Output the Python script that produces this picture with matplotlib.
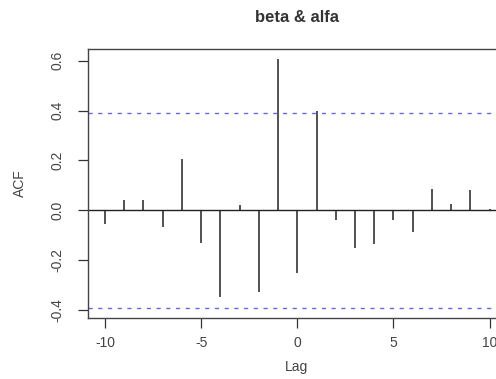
import matplotlib

matplotlib.use("Agg")

import matplotlib.pyplot as plt
import numpy as np

# cross-correlation values
lags = list(range(-10, 11))
acf = [-0.053, 0.043, 0.043, -0.067, 0.207, -0.131, -0.347, 0.02, -0.329, 0.605,
       -0.253, 0.397, -0.037, -0.153, -0.136, -0.037, -0.087, 0.087, 0.027, 0.08, 0.007]
conf = 0.39
x_ticks = [-10, -5, 0, 5, 10]
y_ticks = [-0.4, -0.2, 0.0, 0.2, 0.4, 0.6]

plt.rcParams["font.family"] = ["Liberation Sans", "DejaVu Sans"]

W, H = 496, 379
fig = plt.figure(figsize=(W / 100, H / 100), dpi=100)
# plot box spans past the right edge, as in the cropped reference
left, right, top, bottom = 88, 505, 49, 318
ax = fig.add_axes([left / W, 1 - bottom / H, (right - left) / W, (bottom - top) / H])

ax.vlines(lags, 0, acf, color="#222222", linewidth=1.1)
ax.axhline(0, color="#222222", linewidth=1.0)
ax.axhline(conf, color="#6666dd", linewidth=1.0, linestyle=(0, (3, 4)))
ax.axhline(-conf, color="#6666dd", linewidth=1.0, linestyle=(0, (3, 4)))

ax.set_xlim(-10.88, 10.8)
ax.set_ylim(-0.432, 0.647)
ax.set_xticks(x_ticks)
ax.set_yticks(y_ticks)
ax.set_xticklabels([str(t) for t in x_ticks])
ax.set_yticklabels([f"{t:.1f}" for t in y_ticks], rotation=90, va="center")
ax.tick_params(direction="out", length=7, width=0.9, colors="#333333",
               labelsize=10, labelcolor="#444444", pad=6)
ax.tick_params(axis="y", pad=10)
for side in ax.spines.values():
    side.set_color("#444444")
    side.set_linewidth(1.0)

# axis titles placed in figure pixels so they stay inside the frame
fig.text(297 / W, 1 - 367 / H, "Lag", ha="center", va="center",
         fontsize=10, color="#444444")
fig.text(20 / W, 1 - 183 / H, "ACF", ha="center", va="center",
         rotation=90, fontsize=10, color="#444444")
fig.text(297 / W, 1 - 17 / H, "beta & alfa", ha="center", va="center",
         fontsize=12, fontweight="bold", color="#333333")

fig.savefig("out.png", dpi=100)
